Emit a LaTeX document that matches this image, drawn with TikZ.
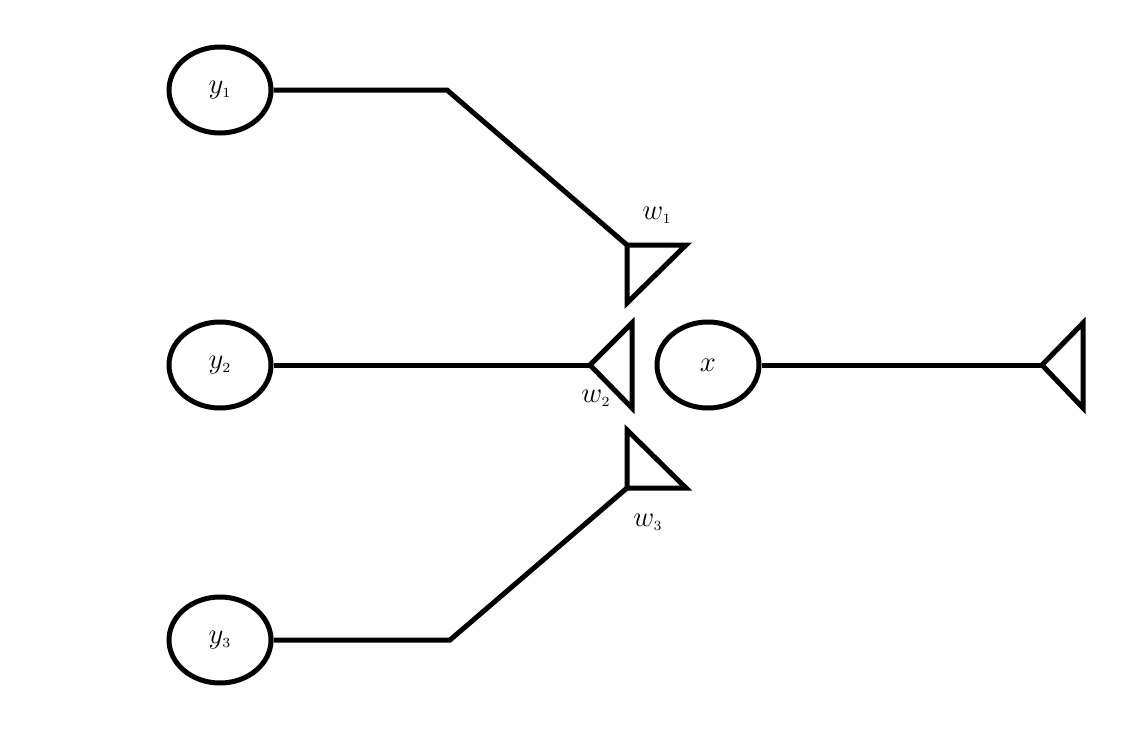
\documentclass[tikz,border=0pt]{standalone}
\usetikzlibrary{shapes.geometric}
\begin{document}
\begin{tikzpicture}[x=0.5pt,y=-0.5pt,line width=2.5pt,line join=miter,
  unit/.style={draw,ellipse,minimum width=51pt,minimum height=43pt,inner sep=0pt,font=\Large},
  lbl/.style={font=\Large}]
\useasboundingbox (0,0) rectangle (1147,750);
\node[unit] (y1) at (220,90) {$y_{\scriptscriptstyle 1}$};
\node[unit] (y2) at (220,365) {$y_{\scriptscriptstyle 2}$};
\node[unit] (y3) at (220,640) {$y_{\scriptscriptstyle 3}$};
\node[unit] (x) at (708,365) {$x$};
\coordinate (b1) at (447,90);
\coordinate (b3) at (450,640);
\coordinate (t1) at (627,245);
\coordinate (t2) at (590,365);
\coordinate (t3) at (627,488);
\coordinate (t4) at (1042,365);
\draw (y1.east) -- (b1) -- (t1);
\draw (y2.east) -- (t2);
\draw (y3.east) -- (b3) -- (t3);
\draw (x.east) -- (t4);
\draw (t1) -- (686,245) -- (627,303) -- cycle;
\draw (t2) -- (632,323) -- (632,408) -- cycle;
\draw (627,430) -- (686,488) -- (t3) -- cycle;
\draw (t4) -- (1083,323) -- (1083,408) -- cycle;
\node[lbl] (w1) at (657,215) {$w_{\scriptscriptstyle 1}$};
\node[lbl] (w2) at (596,398) {$w_{\scriptscriptstyle 2}$};
\node[lbl] (w3) at (648,522) {$w_{\scriptscriptstyle 3}$};
\end{tikzpicture}
\end{document}
